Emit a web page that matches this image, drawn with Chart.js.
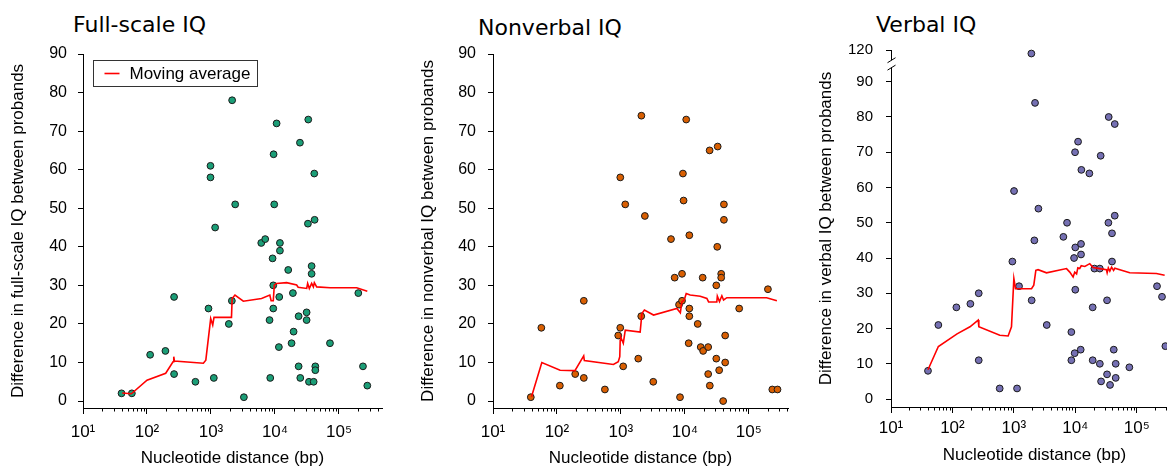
<!DOCTYPE html>
<html>
<head>
<meta charset="utf-8">
<script src="https://cdn.jsdelivr.net/npm/chart.js@4/dist/chart.umd.min.js"></script>
<style>
  html, body { margin: 0; padding: 0; width: 1167px; height: 466px; overflow: hidden; background: #ffffff; }
  canvas { position: absolute; top: 0; }
  .ptitle { position: absolute; font-family: "DejaVu Sans", sans-serif; font-size: 22px; line-height: 22px; color: #000; white-space: nowrap; }
</style>
</head>
<body>
<div class="ptitle" id="t1" style="left:73px;top:14px"></div>
<div class="ptitle" id="t2" style="left:478px;top:17px"></div>
<div class="ptitle" id="t3" style="left:876px;top:14px"></div>
<canvas id="c1" width="400" height="466" style="left:0px;width:400px;height:466px"></canvas>
<canvas id="c2" width="390" height="466" style="left:410px;width:390px;height:466px"></canvas>
<canvas id="c3" width="400" height="466" style="left:800px;width:400px;height:466px"></canvas>
<script>
// ---------------- DATA ----------------
const PANEL_TITLES = ['Full-scale IQ', 'Nonverbal IQ', 'Verbal IQ'];
const Y_TITLES = [
  'Difference in full-scale IQ between probands',
  'Difference in nonverbal IQ between probands',
  'Difference in verbal IQ between probands'
];
const X_TITLE = 'Nucleotide distance (bp)';
const LEGEND_LABEL = 'Moving average';

const X_MAJOR_TICKS = [10, 100, 1000, 10000, 100000];
const X_TICK_LABELS = ['10¹', '10²', '10³', '10⁴', '10⁵'];
const Y_TICKS = [0, 10, 20, 30, 40, 50, 60, 70, 80, 90];
const VIQ_EXTRA_TICK = 120;   // tick shown above the axis break (verbal panel)

// Full-scale IQ: nucleotide distance (bp) and IQ difference
const FSIQ_DIST = [40, 58, 112, 194, 265, 265, 571, 914, 982, 982, 1107, 1161, 1900, 2118, 2140, 2388, 3266,
  6100, 7036, 8220, 8430, 9170, 9400, 9400, 9510, 9730, 10600, 11500, 11660, 11940, 11940, 16100, 18160,
  19050, 19530, 23400, 23400, 24550, 24840, 31200, 31200, 32700, 33100, 33950, 37350, 37350, 40200, 41100,
  41600, 42660, 42660, 72300, 200400, 237000, 277000];
const FSIQ_DIFF = [2, 2, 12, 13, 27, 7, 5, 24, 61, 58, 6, 45, 20, 26, 78, 51, 1,
  41, 42, 21, 6, 37, 24, 30, 64, 51, 72, 14, 27, 41, 39, 34, 15,
  28, 18, 22, 9, 67, 6, 23, 21, 46, 73, 5, 35, 33, 5, 59,
  47, 9, 8, 15, 28, 9, 4];
const FSIQ_MA_DIST = [41, 57, 100, 196, 255, 262, 268, 760, 830, 989, 1064, 1115, 2090, 2140, 2370, 3200, 6170,
  8300, 8700, 9400, 9770, 10600, 15200, 21800, 23000, 31300, 32400, 34400, 37400, 39800, 41200, 44800, 72800,
  189000, 277000];
const FSIQ_MA = [2.1, 1.9, 5.4, 7.2, 10.2, 11.5, 10.4, 9.8, 10.6, 21.4, 19.7, 21.7, 21.7, 26.6, 27.5, 25.9, 26.6,
  27.5, 26.0, 26.0, 30.1, 30.5, 30.7, 30.1, 29.5, 29.2, 30.5, 29.2, 30.5, 29.6, 30.7, 29.6, 29.4,
  29.4, 28.5];

// Nonverbal IQ
const NVIQ_DIST = [39, 57, 111, 193, 263, 263, 562, 908, 977, 978, 1086, 1169, 1867, 2080, 2090, 2370, 3206,
  6070, 6930, 8110, 8400, 9030, 9030, 9330, 9550, 10500, 11470, 11750, 11750, 11750, 15880, 17700, 19000,
  19300, 23160, 23160, 24400, 24560, 31000, 31000, 32100, 32600, 34400, 37000, 37000, 39700, 40800, 40800,
  42700, 42700, 70700, 199000, 233000, 281000];
const NVIQ_DIFF = [1, 19, 4, 7, 26, 6, 3, 17, 19, 58, 9, 51, 11, 22, 74, 48, 5,
  42, 32, 25, 1, 33, 26, 59, 52, 73, 15, 24, 22, 43, 20, 14, 32,
  13, 14, 7, 65, 4, 11, 30, 40, 66, 8, 33, 32, 0, 51, 47,
  17, 10, 24, 29, 3, 3];
const NVIQ_MA_DIST = [40, 58, 112, 191, 262, 268, 764, 910, 960, 975, 1000, 1090, 1170, 2000, 2130, 2330, 3240,
  7500, 8500, 8970, 9780, 10500, 12100, 17400, 22100, 23500, 31600, 32200, 34800, 37900, 40300, 45400,
  190000, 275000];
const NVIQ_MA = [1.1, 10.0, 8.0, 7.9, 11.7, 10.5, 9.5, 10.2, 11.5, 15.8, 16.5, 15.0, 18.4, 17.9, 22.7, 23.6, 22.3,
  24.0, 22.9, 25.7, 26.2, 27.9, 27.5, 27.2, 26.6, 25.7, 25.7, 27.2, 25.8, 27.3, 26.2, 26.8,
  26.8, 26.0];

// Verbal IQ
const VIQ_DIST = [40, 59, 116, 196, 268, 268, 588, 946, 1007, 1127, 1214, 1928, 1950, 2157, 2212, 2510, 3430,
  6400, 7340, 8630, 8630, 9550, 9770, 9910, 10000, 10000, 11100, 12250, 12400, 12400, 12560, 16950, 19200,
  19200, 20500, 25100, 25100, 25900, 26300, 32900, 32900, 34600, 35000, 36800, 39600, 39600, 42300, 43900,
  43900, 45500, 45500, 75900, 214000, 258000, 293000];
const VIQ_DIFF = [8, 21, 26, 27, 30, 11, 3, 39, 59, 3, 32, 119, 28, 45, 84, 54, 21,
  46, 50, 19, 11, 40, 13, 70, 31, 43, 73, 14, 41, 44, 65, 64, 26,
  11, 37, 10, 37, 69, 5, 7, 28, 50, 80, 4, 47, 39, 14, 52,
  78, 6, 10, 9, 32, 29, 15];
const VIQ_MA_DIST = [40, 59, 119, 193, 263, 269, 590, 807, 915, 1000, 1065, 1940, 2110, 2280, 2480, 3400, 7200,
  8130, 9220, 9800, 10500, 11000, 11800, 12500, 14300, 17200, 19500, 25000, 32100, 33000, 34500, 36500,
  39000, 42000, 44000, 76900, 209000, 285000];
const VIQ_MA = [8.3, 14.9, 18.5, 20.5, 22.4, 20.5, 18.1, 17.9, 20.5, 34.2, 31.3, 31.3, 32.3, 36.5, 36.7, 35.8, 37.0,
  36.0, 34.6, 36.0, 35.5, 37.2, 37.0, 37.8, 37.6, 38.4, 37.3, 37.0, 36.7, 35.8, 37.2, 36.3,
  37.4, 36.5, 37.1, 35.8, 35.6, 35.1];

// -------------- helpers / plugins --------------
// Broken verbal axis: values above the break are drawn shifted down onto the compressed upper segment.
const BREAK_THRESHOLD = 95, BREAK_SHIFT = 21;
const identity = v => v;
const viqDisplay = v => (v > BREAK_THRESHOLD ? v - BREAK_SHIFT : v);

function logTickValues(min, max) {
  const out = [];
  for (let e = Math.floor(Math.log10(min)); Math.pow(10, e) <= max; e++) {
    const d = Math.pow(10, e);
    for (let m = 1; m <= 9; m++) {
      const v = m * d;
      if (v >= min && v <= max) out.push(v);
    }
  }
  return out;
}

const FONT = 'Liberation Sans, Arial, sans-serif';

const minorTicks = {
  id: 'minorTicks',
  afterDraw(chart) {
    const xs = chart.scales.x, ctx = chart.ctx;
    ctx.save();
    ctx.strokeStyle = '#000';
    ctx.lineWidth = 1;
    xs.ticks.forEach(t => {
      if (X_MAJOR_TICKS.includes(t.value)) return;
      const px = Math.round(xs.getPixelForValue(t.value)) + 0.5;
      ctx.beginPath();
      ctx.moveTo(px, xs.top);
      ctx.lineTo(px, xs.top + 3.5);
      ctx.stroke();
    });
    ctx.restore();
  }
};

const legendBox = {
  id: 'legendBox',
  afterDraw(chart, args, opts) {
    if (!opts || !opts.show) return;
    const ca = chart.chartArea, ctx = chart.ctx;
    const x = Math.round(ca.left) + 10.5, y = Math.round(ca.top) + 6.5, w = 164, h = 26;
    ctx.save();
    ctx.fillStyle = '#fff';
    ctx.fillRect(x, y, w, h);
    ctx.strokeStyle = '#333';
    ctx.lineWidth = 1;
    ctx.strokeRect(x, y, w, h);
    ctx.strokeStyle = '#ff0000';
    ctx.lineWidth = 1.6;
    ctx.beginPath();
    ctx.moveTo(x + 11, y + h / 2);
    ctx.lineTo(x + 26, y + h / 2);
    ctx.stroke();
    ctx.fillStyle = '#000';
    ctx.font = '17px ' + FONT;
    ctx.textBaseline = 'middle';
    ctx.fillText(LEGEND_LABEL, x + 36, y + h / 2 + 1);
    ctx.restore();
  }
};

const axisBreak = {
  id: 'axisBreak',
  afterDraw(chart, args, opts) {
    if (!opts || !opts.show) return;
    const ys = chart.scales.y, ca = chart.chartArea, ctx = chart.ctx;
    const x = Math.round(ca.left) + 0.5;
    const yUpper = ys.getPixelForValue(opts.upper);
    const yLower = ys.getPixelForValue(opts.lower);
    ctx.save();
    ctx.strokeStyle = '#000';
    ctx.lineWidth = 1;
    ctx.beginPath();
    ctx.moveTo(x, ca.top);
    ctx.lineTo(x, yUpper);
    ctx.moveTo(x, yLower);
    ctx.lineTo(x, ca.bottom);
    ctx.moveTo(x - 4, yUpper + 2.5);
    ctx.lineTo(x + 4, yUpper - 2.5);
    ctx.moveTo(x - 4, yLower + 2.5);
    ctx.lineTo(x + 4, yLower - 2.5);
    ctx.stroke();
    ctx.restore();
  }
};

function makePanel(cfg) {
  const map = cfg.map || identity;
  const pts = cfg.dist.map((d, i) => ({ x: d, y: map(cfg.diff[i]) }));
  const ma = cfg.maDist.map((d, i) => ({ x: d, y: map(cfg.ma[i]) }));
  return new Chart(document.getElementById(cfg.id), {
    type: 'scatter',
    data: {
      datasets: [
        { label: LEGEND_LABEL, data: ma, showLine: true, borderColor: '#ff0000', borderWidth: 1.6,
          pointRadius: 0, pointHoverRadius: 0, fill: false, tension: 0 },
        { label: cfg.title, data: pts, backgroundColor: cfg.color, borderColor: '#1a1a1a', borderWidth: 1,
          pointRadius: 3.4, pointHoverRadius: 3.4, clip: false }
      ]
    },
    plugins: [minorTicks, legendBox, axisBreak],
    options: {
      responsive: false,
      animation: false,
      devicePixelRatio: 1,
      events: [],
      layout: { padding: { top: cfg.padTop, right: cfg.padRight, bottom: 0, left: 0 } },
      plugins: {
        legend: { display: false },
        tooltip: { enabled: false },
        title: { display: false },
        legendBox: { show: !!cfg.legend },
        axisBreak: cfg.axisBreak || { show: false }
      },
      scales: {
        x: {
          type: 'logarithmic',
          bounds: 'data',
          min: 10,
          max: cfg.xMax,
          border: { display: true, color: '#000', width: 1 },
          grid: {
            display: true, drawOnChartArea: false, drawTicks: true, tickLength: 6, tickWidth: 1,
            tickColor: c => (c.tick && X_MAJOR_TICKS.includes(c.tick.value)) ? '#000' : 'rgba(0,0,0,0)'
          },
          ticks: {
            autoSkip: false, maxRotation: 0, minRotation: 0, padding: cfg.xTickPad, color: '#000',
            font: { family: FONT, size: 17 },
            callback: v => { const i = X_MAJOR_TICKS.indexOf(v); return i >= 0 ? X_TICK_LABELS[i] : ''; }
          },
          afterBuildTicks: s => { s.ticks = logTickValues(s.min, s.max).map(v => ({ value: v })); },
          afterFit: s => { s.height = cfg.xAxisH; },
          title: {
            display: true, text: X_TITLE, color: '#000',
            font: { family: FONT, size: 17, lineHeight: 1 },
            padding: { top: 0, bottom: cfg.xTitlePad }
          }
        },
        y: {
          type: 'linear',
          bounds: 'data',
          min: cfg.yMin,
          max: cfg.yMax,
          border: { display: !cfg.axisBreak, color: '#000', width: 1 },
          grid: { display: true, drawOnChartArea: false, drawTicks: true, tickLength: 5, tickWidth: 1, tickColor: '#000' },
          ticks: {
            autoSkip: false, padding: cfg.yTickPad, color: '#000',
            font: { family: FONT, size: cfg.yTickSize },
            callback: v => cfg.yLabel ? cfg.yLabel(v) : String(v)
          },
          afterBuildTicks: s => { s.ticks = cfg.yTicks.map(v => ({ value: v })); },
          afterFit: s => { s.width = cfg.yAxisW; },
          title: {
            display: true, text: cfg.yTitle, color: '#000',
            font: { family: FONT, size: 17, lineHeight: 1 },
            padding: { top: cfg.yTitlePad, bottom: 0 }
          }
        }
      }
    }
  });
}

document.getElementById('t1').textContent = PANEL_TITLES[0];
document.getElementById('t2').textContent = PANEL_TITLES[1];
document.getElementById('t3').textContent = PANEL_TITLES[2];

makePanel({
  id: 'c1', title: PANEL_TITLES[0], color: '#1b9e77',
  dist: FSIQ_DIST, diff: FSIQ_DIFF, maDist: FSIQ_MA_DIST, ma: FSIQ_MA,
  xMax: 470000, yMin: -1.8, yMax: 90, yTicks: Y_TICKS,
  padTop: 54, padRight: 18, xAxisH: 58, yAxisW: 83,
  xTickPad: 8, xTitlePad: -1, yTickPad: 11, yTickSize: 16, yTitlePad: 10,
  yTitle: Y_TITLES[0], legend: true
});

makePanel({
  id: 'c2', title: PANEL_TITLES[1], color: '#d95f02',
  dist: NVIQ_DIST, diff: NVIQ_DIFF, maDist: NVIQ_MA_DIST, ma: NVIQ_MA,
  xMax: 410000, yMin: -1.8, yMax: 90, yTicks: Y_TICKS,
  padTop: 54, padRight: 12, xAxisH: 58, yAxisW: 83,
  xTickPad: 8, xTitlePad: -1, yTickPad: 12, yTickSize: 16, yTitlePad: 9.5,
  yTitle: Y_TITLES[1]
});

makePanel({
  id: 'c3', title: PANEL_TITLES[2], color: '#7570b3',
  dist: VIQ_DIST, diff: VIQ_DIFF, maDist: VIQ_MA_DIST, ma: VIQ_MA, map: viqDisplay,
  xMax: 470000, yMin: -2.26, yMax: viqDisplay(VIQ_EXTRA_TICK),
  yTicks: Y_TICKS.concat([viqDisplay(VIQ_EXTRA_TICK)]),
  yLabel: v => (v > BREAK_THRESHOLD ? String(v + BREAK_SHIFT) : String(v)),
  padTop: 50, padRight: 22, xAxisH: 59, yAxisW: 91,
  xTickPad: 5, xTitlePad: 2.5, yTickPad: 13, yTickSize: 15, yTitlePad: 17.5,
  yTitle: Y_TITLES[2],
  axisBreak: { show: true, upper: 96.1, lower: 94.0 }
});
</script>
</body>
</html>
